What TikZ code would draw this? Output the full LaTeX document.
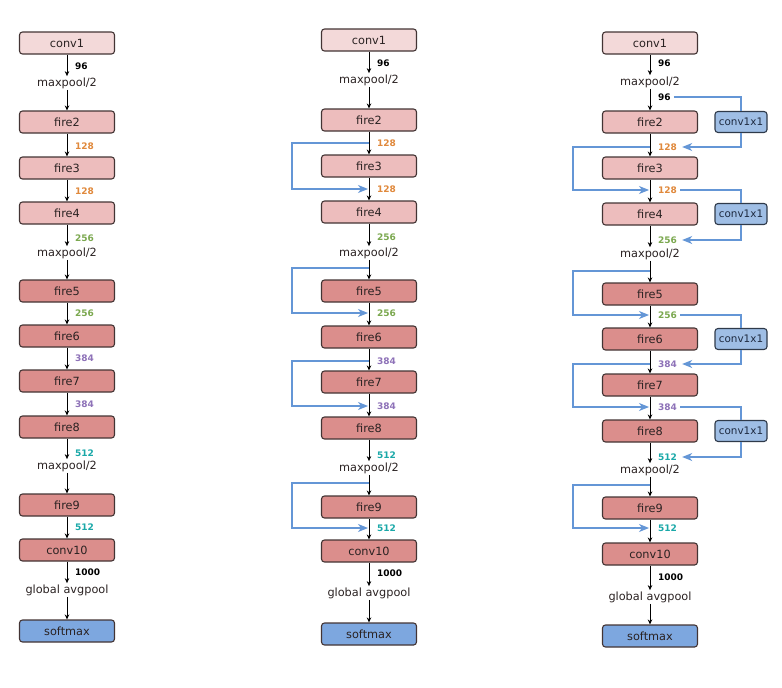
\documentclass[tikz,border=0pt]{standalone}
\usepackage{fontspec}
\setmainfont{DejaVu Sans}
\usetikzlibrary{arrows.meta}
\definecolor{cvA}{HTML}{F3D9D9}
\definecolor{fireA}{HTML}{EDBDBD}
\definecolor{fireB}{HTML}{DB8E8C}
\definecolor{smc}{HTML}{7DA7DF}
\definecolor{cxc}{HTML}{9FBEE5}
\definecolor{bordc}{HTML}{433434}
\definecolor{cxbord}{HTML}{2F3A4A}
\definecolor{txtc}{HTML}{2A2222}
\definecolor{cxtxt}{HTML}{1E2A40}
\definecolor{bypc}{HTML}{6496D6}
\definecolor{cOr}{HTML}{E0893C}
\definecolor{cGr}{HTML}{7BA84F}
\definecolor{cPu}{HTML}{8E72B8}
\definecolor{cTe}{HTML}{1AA8A8}
\tikzset{
 blk/.style={draw=bordc, line width=1.1pt, rounded corners=3pt, minimum width=95pt, minimum height=22pt, inner sep=0pt, font=\fontsize{11.3}{13}\selectfont, text=txtc},
 lite/.style={blk, fill=cvA},
 midc/.style={blk, fill=fireA},
 dark/.style={blk, fill=fireB},
 smx/.style={blk, fill=smc},
 cxb/.style={draw=cxbord, line width=1.1pt, rounded corners=3pt, fill=cxc, minimum width=52pt, minimum height=21pt, inner sep=0pt, font=\fontsize{10.4}{12}\selectfont, text=cxtxt},
 op/.style={font=\fontsize{11.3}{13}\selectfont, inner sep=1.2pt, text=txtc},
 num/.style={font=\bfseries\fontsize{9}{11}\selectfont, anchor=west, inner sep=1pt},
 nk/.style={num, text=black},
 no/.style={num, text=cOr},
 ng/.style={num, text=cGr},
 np/.style={num, text=cPu},
 nt/.style={num, text=cTe},
 flow/.style={draw=black, line width=0.8pt, -{Stealth[length=5pt,width=4.5pt]}},
 byp/.style={draw=bypc, line width=1.1pt, -{Stealth[length=10pt,width=8pt,inset=3pt]}},
 bypl/.style={draw=bypc, line width=1.1pt},
}
\begin{document}
\begin{tikzpicture}[x=1pt,y=-1pt]
\useasboundingbox (0,0) rectangle (782,688);
% ================= LEFT COLUMN =================
\node[lite] (Lconv1) at (67,43) {conv1};
\node[nk] (Ln1) at (74,66) {96};
\node[op] (Lmp1) at (67,83) {maxpool/2};
\node[midc] (Lf2) at (67,122) {fire2};
\node[no] (Ln2) at (74,146) {128};
\node[midc] (Lf3) at (67,168) {fire3};
\node[no] (Ln3) at (74,191) {128};
\node[midc] (Lf4) at (67,213) {fire4};
\node[ng] (Ln4) at (74,238) {256};
\node[op] (Lmp2) at (67,253) {maxpool/2};
\node[dark] (Lf5) at (67,291) {fire5};
\node[ng] (Ln5) at (74,313) {256};
\node[dark] (Lf6) at (67,336) {fire6};
\node[np] (Ln6) at (74,358) {384};
\node[dark] (Lf7) at (67,381) {fire7};
\node[np] (Ln7) at (74,404) {384};
\node[dark] (Lf8) at (67,427) {fire8};
\node[nt] (Ln8) at (74,453) {512};
\node[op] (Lmp3) at (67,466) {maxpool/2};
\node[dark] (Lf9) at (67,505) {fire9};
\node[nt] (Ln9) at (74,527) {512};
\node[dark] (Lconv10) at (67,550) {conv10};
\node[nk] (Ln10) at (74,572) {1000};
\node[op] (Lgap) at (67,590) {global avgpool};
\node[smx] (Lsoft) at (67,631) {softmax};
\draw[flow] (Lconv1) -- (Lmp1);
\draw[flow] (Lmp1) -- (Lf2);
\draw[flow] (Lf2) -- (Lf3);
\draw[flow] (Lf3) -- (Lf4);
\draw[flow] (Lf4) -- (Lmp2);
\draw[flow] (Lmp2) -- (Lf5);
\draw[flow] (Lf5) -- (Lf6);
\draw[flow] (Lf6) -- (Lf7);
\draw[flow] (Lf7) -- (Lf8);
\draw[flow] (Lf8) -- (Lmp3);
\draw[flow] (Lmp3) -- (Lf9);
\draw[flow] (Lf9) -- (Lconv10);
\draw[flow] (Lconv10) -- (Lgap);
\draw[flow] (Lgap) -- (Lsoft);
% ================= MIDDLE COLUMN =================
\node[lite] (Mconv1) at (369,40) {conv1};
\node[nk] (Mn1) at (376,63) {96};
\node[op] (Mmp1) at (369,80) {maxpool/2};
\node[midc] (Mf2) at (369,120) {fire2};
\node[no] (Mn2) at (376,143) {128};
\node[midc] (Mf3) at (369,166) {fire3};
\node[no] (Mn3) at (376,189) {128};
\node[midc] (Mf4) at (369,212) {fire4};
\node[ng] (Mn4) at (376,237) {256};
\node[op] (Mmp2) at (369,253) {maxpool/2};
\node[dark] (Mf5) at (369,291) {fire5};
\node[ng] (Mn5) at (376,313) {256};
\node[dark] (Mf6) at (369,337) {fire6};
\node[np] (Mn6) at (376,361) {384};
\node[dark] (Mf7) at (369,382) {fire7};
\node[np] (Mn7) at (376,406) {384};
\node[dark] (Mf8) at (369,428) {fire8};
\node[nt] (Mn8) at (376,455) {512};
\node[op] (Mmp3) at (369,468) {maxpool/2};
\node[dark] (Mf9) at (369,507) {fire9};
\node[nt] (Mn9) at (376,528) {512};
\node[dark] (Mconv10) at (369,551) {conv10};
\node[nk] (Mn10) at (376,573) {1000};
\node[op] (Mgap) at (369,593) {global avgpool};
\node[smx] (Msoft) at (369,634) {softmax};
\draw[flow] (Mconv1) -- (Mmp1);
\draw[flow] (Mmp1) -- (Mf2);
\draw[flow] (Mf2) -- (Mf3);
\draw[flow] (Mf3) -- (Mf4);
\draw[flow] (Mf4) -- (Mmp2);
\draw[flow] (Mmp2) -- (Mf5);
\draw[flow] (Mf5) -- (Mf6);
\draw[flow] (Mf6) -- (Mf7);
\draw[flow] (Mf7) -- (Mf8);
\draw[flow] (Mf8) -- (Mmp3);
\draw[flow] (Mmp3) -- (Mf9);
\draw[flow] (Mf9) -- (Mconv10);
\draw[flow] (Mconv10) -- (Mgap);
\draw[flow] (Mgap) -- (Msoft);
\coordinate (Ms1) at (369,143); \coordinate (Me1) at (368,189);
\coordinate (Ms2) at (369,268); \coordinate (Me2) at (368,313);
\coordinate (Ms3) at (369,361); \coordinate (Me3) at (368,406);
\coordinate (Ms4) at (369,483); \coordinate (Me4) at (368,528);
\foreach \s/\e in {Ms1/Me1,Ms2/Me2,Ms3/Me3,Ms4/Me4}
  \draw[byp] (\s) -- ++(-77,0) |- (\e);
% ================= RIGHT COLUMN =================
\node[lite] (Rconv1) at (650,43) {conv1};
\node[nk] (Rn1a) at (657,63) {96};
\node[op] (Rmp1) at (650,82) {maxpool/2};
\node[nk] (Rn1b) at (657,97) {96};
\node[midc] (Rf2) at (650,122) {fire2};
\node[no] (Rn2) at (657,147) {128};
\node[midc] (Rf3) at (650,168) {fire3};
\node[no] (Rn3) at (657,190) {128};
\node[midc] (Rf4) at (650,214) {fire4};
\node[ng] (Rn4) at (657,240) {256};
\node[op] (Rmp2) at (650,254) {maxpool/2};
\node[dark] (Rf5) at (650,294) {fire5};
\node[ng] (Rn5) at (657,315) {256};
\node[dark] (Rf6) at (650,339) {fire6};
\node[np] (Rn6) at (657,364) {384};
\node[dark] (Rf7) at (650,385) {fire7};
\node[np] (Rn7) at (657,407) {384};
\node[dark] (Rf8) at (650,431) {fire8};
\node[nt] (Rn8) at (657,457) {512};
\node[op] (Rmp3) at (650,470) {maxpool/2};
\node[dark] (Rf9) at (650,508) {fire9};
\node[nt] (Rn9) at (657,528) {512};
\node[dark] (Rconv10) at (650,554) {conv10};
\node[nk] (Rn10) at (657,577) {1000};
\node[op] (Rgap) at (650,597) {global avgpool};
\node[smx] (Rsoft) at (650,636) {softmax};
\draw[flow] (Rconv1) -- (Rmp1);
\draw[flow] (Rmp1) -- (Rf2);
\draw[flow] (Rf2) -- (Rf3);
\draw[flow] (Rf3) -- (Rf4);
\draw[flow] (Rf4) -- (Rmp2);
\draw[flow] (Rmp2) -- (Rf5);
\draw[flow] (Rf5) -- (Rf6);
\draw[flow] (Rf6) -- (Rf7);
\draw[flow] (Rf7) -- (Rf8);
\draw[flow] (Rf8) -- (Rmp3);
\draw[flow] (Rmp3) -- (Rf9);
\draw[flow] (Rf9) -- (Rconv10);
\draw[flow] (Rconv10) -- (Rgap);
\draw[flow] (Rgap) -- (Rsoft);
\coordinate (Rs1) at (650,147); \coordinate (Re1) at (649,190);
\coordinate (Rs2) at (650,271); \coordinate (Re2) at (649,315);
\coordinate (Rs3) at (650,364); \coordinate (Re3) at (649,407);
\coordinate (Rs4) at (650,485); \coordinate (Re4) at (649,528);
\foreach \s/\e in {Rs1/Re1,Rs2/Re2,Rs3/Re3,Rs4/Re4}
  \draw[byp] (\s) -- ++(-77,0) |- (\e);
% conv1x1 shortcut boxes
\node[cxb] (Rc1) at (741,122) {conv1x1};
\node[cxb] (Rc2) at (741,214) {conv1x1};
\node[cxb] (Rc3) at (741,339) {conv1x1};
\node[cxb] (Rc4) at (741,431) {conv1x1};
\foreach \a/\c/\b in {Rn1b/Rc1/Rn2,Rn3/Rc2/Rn4,Rn5/Rc3/Rn6,Rn7/Rc4/Rn8}{
  \draw[bypl] ([xshift=2pt]\a.east) -| (\c.north);
  \draw[byp] (\c.south) |- ([xshift=4pt]\b.east);
}
\end{tikzpicture}
\end{document}
